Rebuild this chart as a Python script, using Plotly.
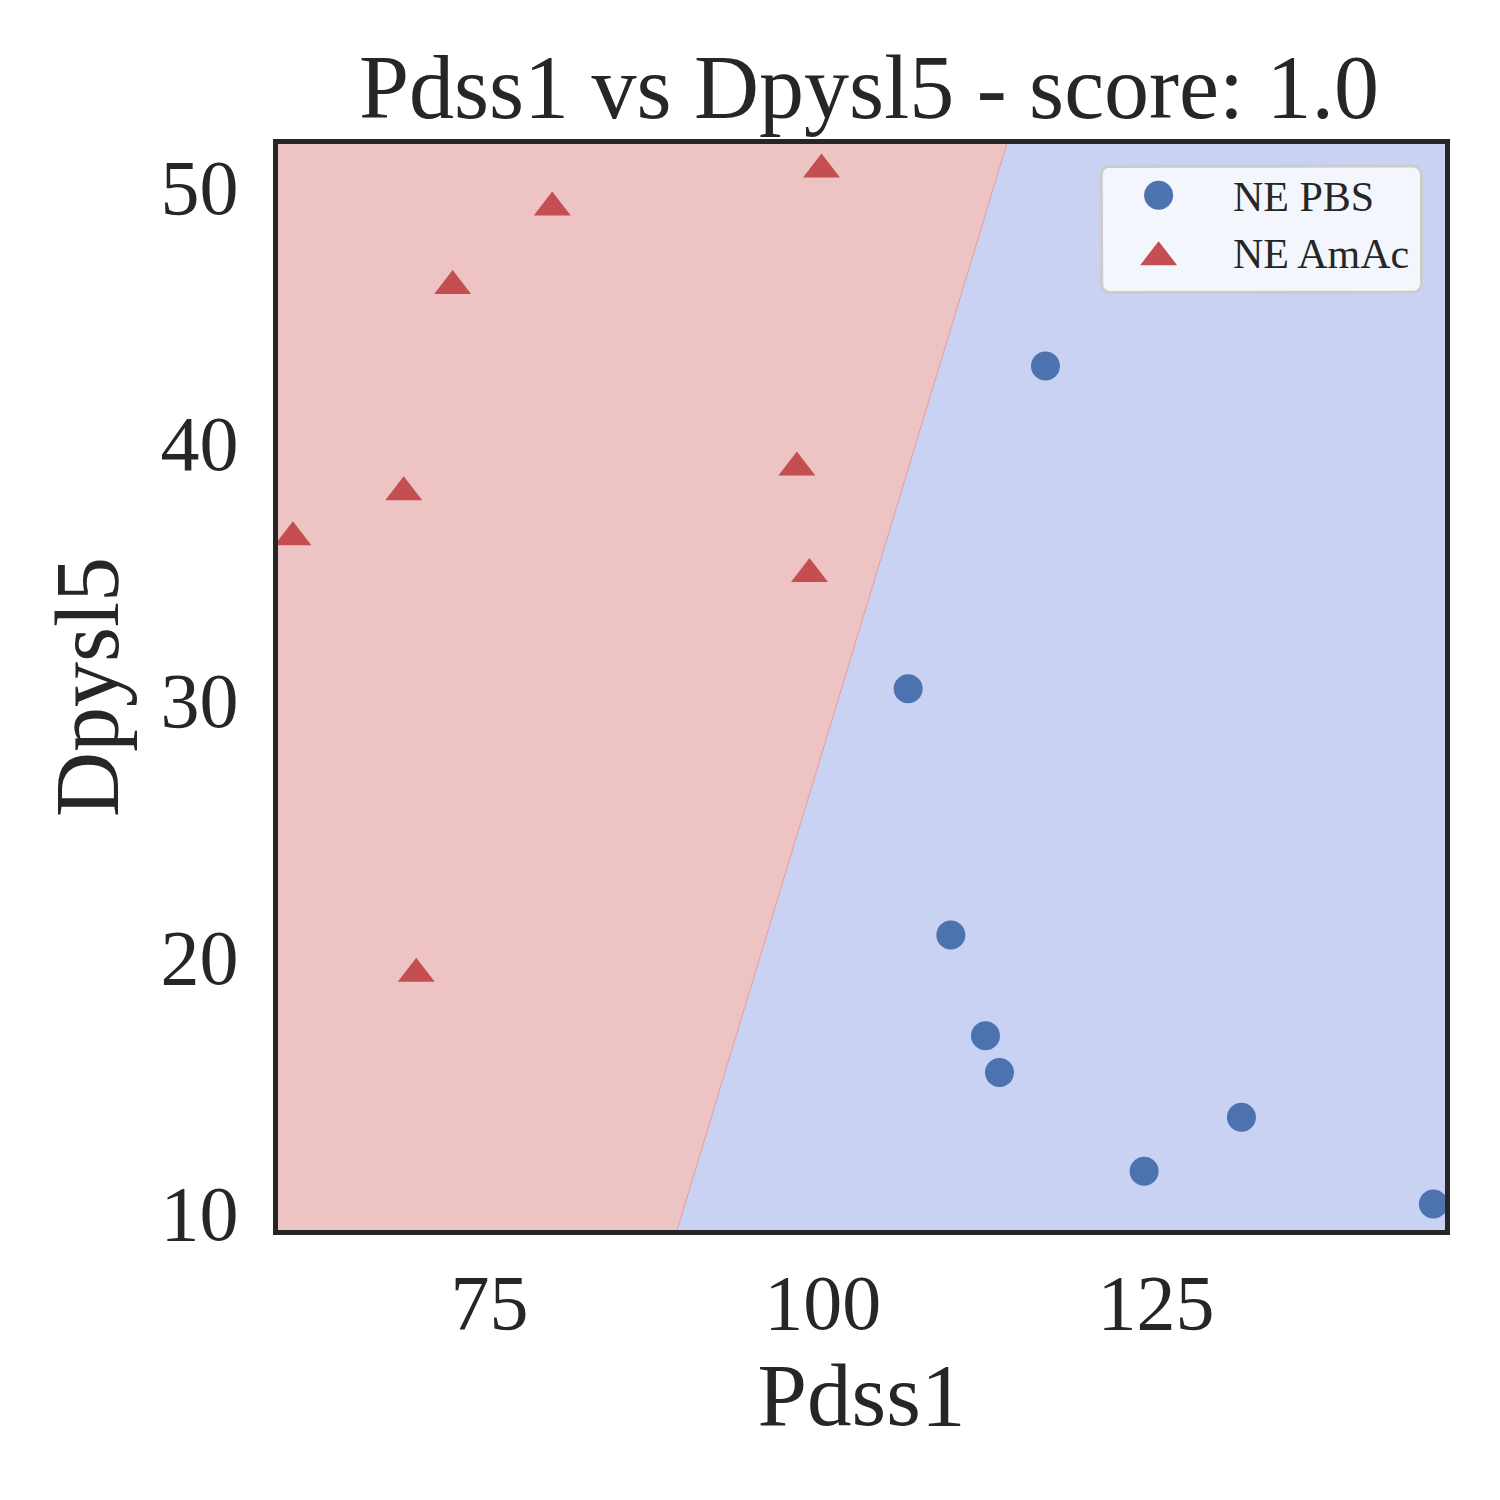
import numpy as np
import plotly.graph_objects as go

# ---- data ----
pbs_x = [116.7, 106.4, 109.6, 112.2, 113.25, 124.1, 131.4, 145.8]
pbs_y = [43.0, 30.43, 20.83, 16.91, 15.48, 11.63, 13.73, 10.35]
amac_x = [60.25, 68.56, 72.23, 79.7, 99.9, 98.05, 99.0, 69.5]
amac_y = [36.33, 38.08, 46.12, 49.18, 50.66, 39.05, 34.9, 19.32]

x_range = [59.13, 146.67]
y_range = [9.34, 51.65]
# decision boundary: x where boundary crosses bottom / top of the range
boundary_x_bottom = 89.07
boundary_x_top = 113.8

x_ticks = [75, 100, 125]
y_ticks = [10, 20, 30, 40, 50]

title = "Pdss1 vs Dpysl5 - score: 1.0"
x_label = "Pdss1"
y_label = "Dpysl5"
series_names = ["NE PBS", "NE AmAc"]

RED_REGION = "#EDC4C3"
BLUE_REGION = "#C9D2F2"
BLUE = "#4C72B0"
RED = "#C44E52"
FONT = "Liberation Serif"
TXT = "#262626"

# plot-area geometry in pixels (for legend placement)
PW, PH = 1169.5, 1089.5

x0, x1 = x_range
y0, y1 = y_range

fig = go.Figure()
# red region (left of boundary)
fig.add_trace(go.Scatter(
    x=[x0, boundary_x_bottom, boundary_x_top, x0, x0],
    y=[y0, y0, y1, y1, y0],
    fill="toself", fillcolor=RED_REGION, mode="lines",
    line=dict(width=0, color=RED_REGION), showlegend=False, hoverinfo="skip"))
# blue region (right of boundary)
fig.add_trace(go.Scatter(
    x=[boundary_x_bottom, x1, x1, boundary_x_top, boundary_x_bottom],
    y=[y0, y0, y1, y1, y0],
    fill="toself", fillcolor=BLUE_REGION, mode="lines",
    line=dict(width=0, color=BLUE_REGION), showlegend=False, hoverinfo="skip"))
# boundary line
fig.add_trace(go.Scatter(
    x=[boundary_x_bottom, boundary_x_top], y=[y0, y1], mode="lines",
    line=dict(width=1, color="#E89A9A"), showlegend=False, hoverinfo="skip"))

fig.add_trace(go.Scatter(
    x=pbs_x, y=pbs_y, mode="markers", name=series_names[0], showlegend=False,
    marker=dict(symbol="circle", size=29, color=BLUE, line=dict(width=0))))
fig.add_trace(go.Scatter(
    x=amac_x, y=amac_y, mode="markers", name=series_names[1], showlegend=False,
    marker=dict(symbol="triangle-up", size=32, color=RED, line=dict(width=0))))

# ---- custom legend on an overlay axis (0..1 = plot area) ----
def px_x(p):
    return (p - 276.5) / PW

def px_y(p):
    return (1232 - p) / PH

bx0, bx1, by0, by1 = px_x(1101.5), px_x(1422.5), px_y(291.5), px_y(164.5)
rad = 9.0
rx, ry = rad / PW, rad / PH
t = np.linspace(0, np.pi / 2, 10)
lx, ly = [], []
for cx, cy, a0 in [(bx1 - rx, by1 - ry, 0), (bx0 + rx, by1 - ry, np.pi / 2),
                   (bx0 + rx, by0 + ry, np.pi), (bx1 - rx, by0 + ry, 1.5 * np.pi)]:
    lx += list(cx + rx * np.cos(a0 + t))
    ly += list(cy + ry * np.sin(a0 + t))
lx.append(lx[0]); ly.append(ly[0])
fig.add_trace(go.Scatter(
    x=lx, y=ly, xaxis="x2", yaxis="y2", mode="lines", fill="toself",
    fillcolor="rgba(255,255,255,0.8)", line=dict(color="#CCCCCC", width=3),
    showlegend=False, hoverinfo="skip"))

leg_mx = px_x(1159)
leg_rows = [px_y(194), px_y(256)]
fig.add_trace(go.Scatter(
    x=[leg_mx], y=[leg_rows[0]], xaxis="x2", yaxis="y2", mode="markers",
    marker=dict(symbol="circle", size=29, color=BLUE), showlegend=False, hoverinfo="skip"))
fig.add_trace(go.Scatter(
    x=[leg_mx], y=[leg_rows[1]], xaxis="x2", yaxis="y2", mode="markers",
    marker=dict(symbol="triangle-up", size=32, color=RED), showlegend=False, hoverinfo="skip"))
for name, yy in zip(series_names, [px_y(196), px_y(253)]):
    fig.add_annotation(x=px_x(1232), y=yy, xref="x2", yref="y2", text=name,
                       showarrow=False, xanchor="left", yanchor="middle",
                       font=dict(size=42, family=FONT, color=TXT))

fig.update_layout(
    width=1500, height=1500,
    margin=dict(l=270, r=63, t=136, b=278, pad=0),
    paper_bgcolor="white", plot_bgcolor="white",
    font=dict(family=FONT, color=TXT, size=78),
    title=dict(text=title, x=0.574, xanchor="center", y=1, yref="paper",
               yanchor="bottom", pad=dict(b=26), font=dict(size=90, family=FONT, color=TXT)),
    showlegend=False,
    xaxis2=dict(overlaying="x", range=[0, 1], visible=False, fixedrange=True),
    yaxis2=dict(overlaying="y", range=[0, 1], visible=False, fixedrange=True),
)
fig.update_xaxes(selector=dict(anchor="y"))
fig.update_layout(xaxis=dict(range=x_range, tickvals=x_ticks, showgrid=False, zeroline=False,
                 showline=True, mirror=True, linecolor=TXT, linewidth=5,
                 ticks="", ticklabelstandoff=0,
                 tickfont=dict(size=78, family=FONT, color=TXT),
                 title=dict(text=x_label, font=dict(size=89, family=FONT, color=TXT), standoff=20)))
fig.update_layout(yaxis=dict(range=y_range, tickvals=y_ticks, showgrid=False, zeroline=False,
                 showline=True, mirror=True, linecolor=TXT, linewidth=5,
                 ticks="", ticklabelstandoff=19,
                 tickfont=dict(size=78, family=FONT, color=TXT),
                 title=dict(text=y_label, font=dict(size=90, family=FONT, color=TXT), standoff=13)))

fig.write_html("out.html")
